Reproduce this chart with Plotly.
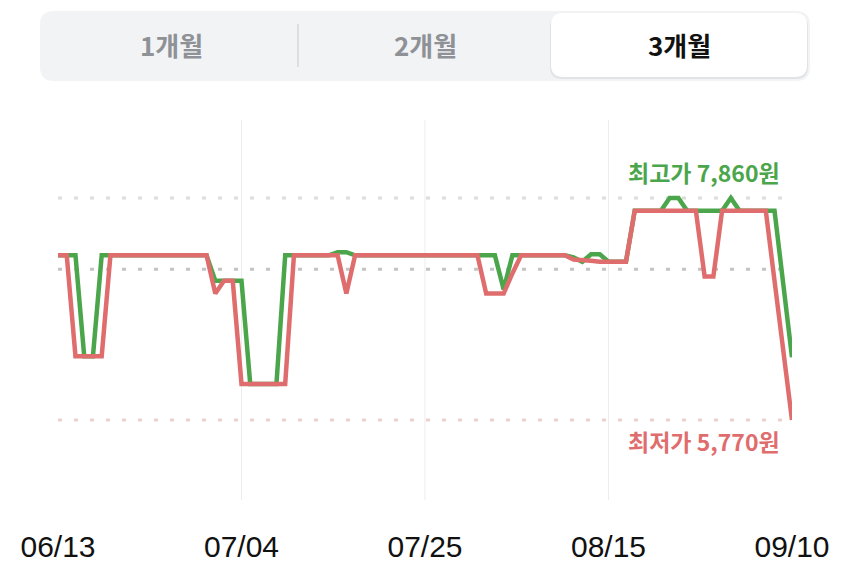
import plotly.graph_objects as go

# x positions are day indexes, labelled with the dates below
days = list(range(85))
tick_pos = [0, 21, 42, 63, 84]
tick_labels = ["06/13", "07/04", "07/25", "08/15", "09/10"]
grid_pos = [21, 42, 63]

# 최고가 (green) / 최저가 (red) per day, in 원
high_price = [
    7320, 7320, 7320, 6370, 6370, 7320, 7320,
    7320, 7320, 7320, 7320, 7320, 7320, 7320,
    7320, 7320, 7320, 7320, 7080, 7080, 7080,
    7080, 6110, 6110, 6110, 6110, 7320, 7320,
    7320, 7320, 7320, 7320, 7350, 7350, 7320,
    7320, 7320, 7320, 7320, 7320, 7320, 7320,
    7320, 7320, 7320, 7320, 7320, 7320, 7320,
    7320, 7320, 7000, 7320, 7320, 7320, 7320,
    7320, 7320, 7320, 7300, 7260, 7330, 7330,
    7260, 7260, 7260, 7740, 7740, 7740, 7740,
    7860, 7860, 7740, 7740, 7740, 7740, 7740,
    7860, 7740, 7740, 7740, 7740, 7740, 7050,
    6360,
]
low_price = [
    7320, 7320, 6370, 6370, 6370, 6370, 7320,
    7320, 7320, 7320, 7320, 7320, 7320, 7320,
    7320, 7320, 7320, 7320, 6960, 7080, 7080,
    6110, 6110, 6110, 6110, 6110, 6110, 7320,
    7320, 7320, 7320, 7320, 7320, 6960, 7320,
    7320, 7320, 7320, 7320, 7320, 7320, 7320,
    7320, 7320, 7320, 7320, 7320, 7320, 7320,
    6960, 6960, 6960, 7150, 7320, 7320, 7320,
    7320, 7320, 7320, 7280, 7280, 7270, 7260,
    7260, 7260, 7260, 7740, 7740, 7740, 7740,
    7740, 7740, 7740, 7740, 7120, 7120, 7740,
    7740, 7740, 7740, 7740, 7740, 7080, 6420,
    5770,
]

max_price = 7860
min_price = 5770
avg_price = 7190
max_label = "최고가 7,860원"
min_label = "최저가 5,770원"
periods = ["1개월", "2개월", "3개월"]

GREEN = "#4ba64b"
RED = "#e06d6d"

# the page body has an 8px margin, so work in page pixels and shift back
OFF = 8
W, H = 850 - OFF, 572 - OFF
L, R, T, B = 58 - OFF, 792 - OFF, 120 - OFF, 500 - OFF


def px(x, y):
    # page pixel -> paper coords
    return (x - OFF - L) / (R - L), (B - (y - OFF)) / (B - T)


def rounded_rect(x0, y0, x1, y1, r):
    def p(x, y):
        a, b = px(x, y)
        return f"{a:.5f},{b:.5f}"
    return (f"M{p(x0 + r, y0)} L{p(x1 - r, y0)} Q{p(x1, y0)} {p(x1, y0 + r)} "
            f"L{p(x1, y1 - r)} Q{p(x1, y1)} {p(x1 - r, y1)} "
            f"L{p(x0 + r, y1)} Q{p(x0, y1)} {p(x0, y1 - r)} "
            f"L{p(x0, y0 + r)} Q{p(x0, y0)} {p(x0 + r, y0)} Z")


fig = go.Figure()

fig.add_trace(go.Scatter(x=days, y=high_price, mode="lines", name="최고가",
                         line=dict(color=GREEN, width=4.5),
                         hoverinfo="skip"))
fig.add_trace(go.Scatter(x=days, y=low_price, mode="lines", name="최저가",
                         line=dict(color=RED, width=4.5),
                         hoverinfo="skip"))

shapes = []
for g in grid_pos:
    shapes.append(dict(type="line", xref="x", yref="paper", x0=g, x1=g, y0=0, y1=1,
                       line=dict(color="#ededed", width=1), layer="below"))
for val, col in [(max_price, "#d9dedb"), (avg_price, "#c4c4c4"), (min_price, "#f0cfcf")]:
    shapes.append(dict(type="line", xref="x", yref="y", x0=0, x1=84, y0=val, y1=val,
                       line=dict(color=col, width=3, dash="4px,12px"), layer="below"))

# period selector at the top
shapes.append(dict(type="path", xref="paper", yref="paper", path=rounded_rect(40, 11, 810, 81, 14),
                   fillcolor="#f2f3f5", line=dict(width=0), layer="below"))
shapes.append(dict(type="path", xref="paper", yref="paper", path=rounded_rect(550, 15, 808, 79, 12),
                   fillcolor="#e2e3e6", line=dict(width=0), layer="below"))
shapes.append(dict(type="path", xref="paper", yref="paper", path=rounded_rect(551, 13, 807, 77, 12),
                   fillcolor="white", line=dict(width=0), layer="below"))
x0, y0 = px(298, 24)
x1, y1 = px(298, 67)
shapes.append(dict(type="line", xref="paper", yref="paper", x0=x0, x1=x1, y0=y0, y1=y1,
                   line=dict(color="#d6d7da", width=1.5)))

annotations = []
for label, cx, selected in zip(periods, [171, 425, 679], [False, False, True]):
    ax, ay = px(cx, 44)
    annotations.append(dict(xref="paper", yref="paper", x=ax, y=ay, text=f"<b>{label}</b>",
                            showarrow=False, xanchor="center", yanchor="middle",
                            font=dict(size=26, color="#111111" if selected else "#8e9196",
                                      family="Noto Sans CJK KR")))

annotations.append(dict(x=84, y=max_price, text=f"<b>{max_label}</b>", showarrow=False,
                        xanchor="right", yanchor="middle", xshift=-10, yshift=26,
                        font=dict(size=23, color=GREEN, family="Noto Sans CJK KR")))
annotations.append(dict(x=84, y=min_price, text=f"<b>{min_label}</b>", showarrow=False,
                        xanchor="right", yanchor="middle", xshift=-10, yshift=-21,
                        font=dict(size=23, color=RED, family="Noto Sans CJK KR")))

fig.update_layout(
    width=W, height=H,
    margin=dict(l=L, r=W - R, t=T, b=H - B, autoexpand=False),
    paper_bgcolor="white", plot_bgcolor="white",
    showlegend=False,
    shapes=shapes,
    annotations=annotations,
    xaxis=dict(range=[0, 84], tickmode="array", tickvals=tick_pos, ticktext=tick_labels,
               showgrid=False, zeroline=False, showline=False, ticks="",
               automargin=False, ticklabelstandoff=26,
               tickfont=dict(size=30, color="#111111", family="Liberation Sans"),
               fixedrange=True),
    yaxis=dict(range=[5017, 8594], showgrid=False, zeroline=False, showline=False,
               showticklabels=False, automargin=False, fixedrange=True),
)

fig.write_html("out.html")
